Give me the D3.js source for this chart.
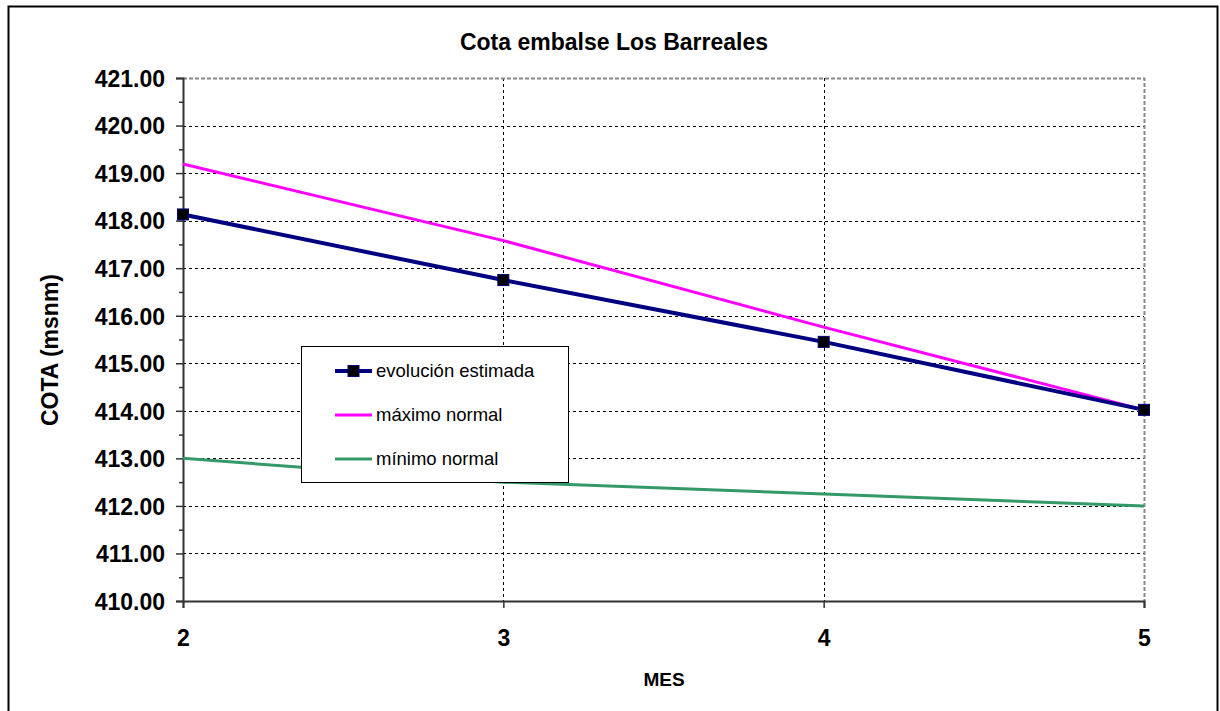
<!DOCTYPE html>
<meta charset="utf-8">
<style>

body { margin: 0; background: #fff; }
text { font-family: Arial, "Liberation Sans", sans-serif; fill: #000; }
.grid line { stroke: #000; stroke-width: 1; stroke-dasharray: 3,3; }

</style>
<body>

<!-- load the d3.js library -->
<script src="https://cdn.jsdelivr.net/npm/d3@7/dist/d3.min.js"></script>
<script>

// data
var meses = [2, 3, 4, 5];
var evolucion = [418.13, 416.75, 415.45, 414.02];
var maximo = [419.19, 417.58, 415.76, 414.02];
var minimo = [413.00, 412.50, 412.25, 412.00];
var yTicks = [410, 411, 412, 413, 414, 415, 416, 417, 418, 419, 420, 421];
var yMinor = [410.5, 411.5, 412.5, 413.5, 414.5, 415.5, 416.5, 417.5, 418.5, 419.5, 420.5];
var seriesNames = ["evolución estimada", "máximo normal", "mínimo normal"];

// plot area
var plotLeft = 183, plotRight = 1144, plotTop = 78, plotBottom = 601;

var x = d3.scaleLinear().domain([2, 5]).range([plotLeft, plotRight]);
var y = d3.scaleLinear().domain([410, 421]).range([plotBottom, plotTop]);

var svg = d3.select("body").append("svg")
    .attr("width", 1220)
    .attr("height", 711);

// outer frame
svg.append("rect")
    .attr("x", 8.5).attr("y", 6.5)
    .attr("width", 1209).attr("height", 740)
    .attr("fill", "#fff")
    .attr("stroke", "#000")
    .attr("stroke-width", 2);

// gridlines
var grid = svg.append("g").attr("class", "grid");
grid.selectAll(".h")
    .data(yTicks.filter(function(d) { return d > 410 && d < 421; }))
  .enter().append("line")
    .attr("x1", plotLeft).attr("x2", plotRight)
    .attr("y1", function(d) { return Math.round(y(d)) + 0.5; })
    .attr("y2", function(d) { return Math.round(y(d)) + 0.5; });
grid.selectAll(".v")
    .data(meses.filter(function(d) { return d > 2 && d < 5; }))
  .enter().append("line")
    .attr("x1", function(d) { return Math.round(x(d)) + 0.5; })
    .attr("x2", function(d) { return Math.round(x(d)) + 0.5; })
    .attr("y1", plotTop).attr("y2", plotBottom);

// top and right edge of plot (gray dashed)
svg.append("path")
    .attr("d", "M" + plotLeft + "," + (plotTop + 0.5) + "H" + (plotRight + 0.5) + "V" + plotBottom)
    .attr("fill", "none")
    .attr("stroke", "#888")
    .attr("stroke-width", 2)
    .attr("stroke-dasharray", "4,2");

// y axis
var yAxis = svg.append("g")
    .attr("transform", "translate(" + plotLeft + ",0)")
    .call(d3.axisLeft(y).tickValues(yTicks).tickSize(7).tickPadding(11).tickFormat(d3.format(".2f")));
yAxis.select(".domain").attr("stroke", "#333").attr("stroke-width", 2);
yAxis.selectAll(".tick line").attr("stroke", "#333").attr("stroke-width", 1.5);
yAxis.selectAll("text")
    .style("font-size", "23px")
    .style("font-weight", "bold")
    .attr("dy", "0.36em");

svg.append("g")
    .attr("transform", "translate(" + plotLeft + ",0)")
    .call(d3.axisLeft(y).tickValues(yMinor).tickSize(4).tickFormat(""))
    .call(function(g) { g.select(".domain").remove(); })
    .selectAll("line").attr("stroke", "#333").attr("stroke-width", 1.5);

// x axis
var xAxis = svg.append("g")
    .attr("transform", "translate(0," + plotBottom + ")")
    .call(d3.axisBottom(x).tickValues(meses).tickSize(7).tickPadding(22).tickFormat(d3.format("d")));
xAxis.select(".domain").attr("stroke", "#333").attr("stroke-width", 2);
xAxis.selectAll(".tick line").attr("stroke", "#333").attr("stroke-width", 1.5);
xAxis.selectAll("text")
    .style("font-size", "23px")
    .style("font-weight", "bold");

// series lines
var line = d3.line()
    .x(function(d, i) { return x(meses[i]); })
    .y(function(d) { return y(d); });

svg.append("path")
    .datum(minimo)
    .attr("fill", "none")
    .attr("stroke", "#339966")
    .attr("stroke-width", 3)
    .attr("d", line);

svg.append("path")
    .datum(maximo)
    .attr("fill", "none")
    .attr("stroke", "#ff00ff")
    .attr("stroke-width", 3)
    .attr("d", line);

svg.append("path")
    .datum(evolucion)
    .attr("fill", "none")
    .attr("stroke", "#000080")
    .attr("stroke-width", 4)
    .attr("d", line);

svg.selectAll(".marker")
    .data(evolucion)
  .enter().append("rect")
    .attr("class", "marker")
    .attr("x", function(d, i) { return x(meses[i]) - 5.5; })
    .attr("y", function(d) { return y(d) - 5.5; })
    .attr("width", 11).attr("height", 11)
    .attr("fill", "#000")
    .attr("stroke", "#000080")
    .attr("stroke-width", 1);

// legend
var legend = svg.append("g").attr("transform", "translate(301,346)");
legend.append("rect")
    .attr("x", 0.5).attr("y", 0.5)
    .attr("width", 267).attr("height", 136)
    .attr("fill", "#fff")
    .attr("stroke", "#000")
    .attr("stroke-width", 1);

var legendColors = ["#000080", "#ff00ff", "#339966"];
var legendWidths = [4, 3, 3];
var item = legend.selectAll(".item")
    .data(seriesNames)
  .enter().append("g")
    .attr("transform", function(d, i) { return "translate(0," + (25 + i * 44) + ")"; });
item.append("line")
    .attr("x1", 34).attr("x2", 71)
    .attr("stroke", function(d, i) { return legendColors[i]; })
    .attr("stroke-width", function(d, i) { return legendWidths[i]; });
item.filter(function(d, i) { return i === 0; })
  .append("rect")
    .attr("x", 47).attr("y", -5.5)
    .attr("width", 11).attr("height", 11)
    .attr("fill", "#000")
    .attr("stroke", "#000080");
item.append("text")
    .attr("x", 75)
    .attr("dy", "0.35em")
    .style("font-size", "18.5px")
    .text(function(d) { return d; });

// titles
svg.append("text")
    .attr("x", 614).attr("y", 50)
    .attr("text-anchor", "middle")
    .style("font-size", "23px")
    .style("font-weight", "bold")
    .text("Cota embalse Los Barreales");

svg.append("text")
    .attr("x", 664).attr("y", 686)
    .attr("text-anchor", "middle")
    .style("font-size", "19px")
    .style("font-weight", "bold")
    .text("MES");

svg.append("text")
    .attr("transform", "translate(58,350) rotate(-90)")
    .attr("text-anchor", "middle")
    .style("font-size", "23px")
    .style("font-weight", "bold")
    .text("COTA (msnm)");

</script>
</body>
